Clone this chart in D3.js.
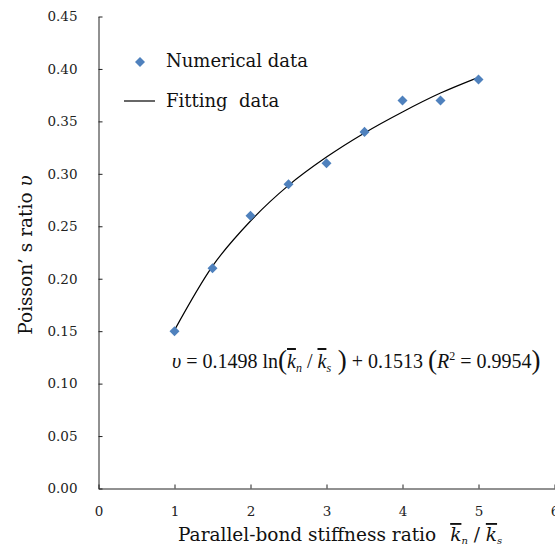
<!DOCTYPE html>
<html>
<head>
<meta charset="utf-8">
<script src="https://cdn.jsdelivr.net/npm/d3@7"></script>
<style>
  body { margin: 0; background: #fff; }
  svg { display: block; font-family: "DejaVu Serif", "Liberation Serif", serif; }
</style>
</head>
<body>
<div id="chart"></div>
<script>
// numerical data
const stiffnessRatio = [1, 1.5, 2, 2.5, 3, 3.5, 4, 4.5, 5];
const poissonRatio = [0.15, 0.21, 0.26, 0.29, 0.31, 0.34, 0.37, 0.37, 0.39];
// fitted curve
const fitRatio = [1, 1.5, 2, 2.5, 3, 3.5, 4, 4.5, 5];
const fitValues = [0.151, 0.212, 0.255, 0.289, 0.316, 0.339, 0.359, 0.377, 0.392];
const xTicks = [0, 1, 2, 3, 4, 5, 6];
const yTicks = [0, 0.05, 0.10, 0.15, 0.20, 0.25, 0.30, 0.35, 0.40, 0.45];

const width = 555, height = 548;
const svg = d3.select('#chart').append('svg')
  .attr('width', width)
  .attr('height', height);

const x = d3.scaleLinear().domain([0, 6]).range([98.5, 554.5]);
const y = d3.scaleLinear().domain([0, 0.45]).range([488.5, 16.5]);

const axisColor = '#222';

const xAxis = svg.append('g')
  .attr('transform', 'translate(0,' + y(0) + ')')
  .call(d3.axisBottom(x).tickValues(xTicks).tickFormat(d3.format('d'))
    .tickSizeInner(-4).tickSizeOuter(0).tickPadding(18));

const yAxis = svg.append('g')
  .attr('transform', 'translate(' + x(0) + ',0)')
  .call(d3.axisLeft(y).tickValues(yTicks).tickFormat(d3.format('.2f'))
    .tickSizeInner(-4).tickSizeOuter(0).tickPadding(21));

[xAxis, yAxis].forEach(a => {
  a.selectAll('path, line').attr('stroke', axisColor).attr('stroke-width', 1);
  a.selectAll('text').attr('fill', '#222')
    .style('font-family', '"DejaVu Serif", serif').style('font-size', '13.5px');
});

// fitted curve
const line = d3.line()
  .x((d, i) => x(fitRatio[i]))
  .y(d => y(d))
  .curve(d3.curveMonotoneX);

svg.append('path')
  .datum(fitValues)
  .attr('fill', 'none')
  .attr('stroke', '#000')
  .attr('stroke-width', 1.2)
  .attr('d', line);

// numerical points
const diamond = d3.symbol().type(d3.symbolDiamond2).size(64);
svg.selectAll('.pt')
  .data(poissonRatio)
  .enter().append('path')
  .attr('class', 'pt')
  .attr('d', diamond)
  .attr('fill', '#4F81BD')
  .attr('transform', (d, i) => 'translate(' + x(stiffnessRatio[i]) + ',' + y(d) + ')');

// legend
const legend = svg.append('g').style('font-size', '18px').attr('fill', '#111');
legend.append('path')
  .attr('d', diamond)
  .attr('fill', '#4F81BD')
  .attr('transform', 'translate(140,62)');
legend.append('text').attr('x', 166).attr('y', 67).text('Numerical data');
legend.append('line')
  .attr('x1', 124).attr('x2', 155).attr('y1', 101).attr('y2', 101)
  .attr('stroke', '#000').attr('stroke-width', 1.2);
legend.append('text').attr('x', 166).attr('y', 107).attr('xml:space', 'preserve').text('Fitting  data');

// equation
const eq = svg.append('text')
  .attr('x', 172).attr('y', 368)
  .style('font-family', '"Liberation Serif", serif')
  .style('font-size', '20px')
  .attr('fill', '#111')
  .attr('xml:space', 'preserve');
eq.append('tspan').style('font-style', 'italic').text('υ');
eq.append('tspan').text(' = 0.1498 ln');
eq.append('tspan').style('font-size', '27px').attr('dy', 1).text('(');
eq.append('tspan').attr('dy', -1).style('font-style', 'italic').style('text-decoration', 'overline').text('k');
eq.append('tspan').style('font-style', 'italic').style('font-size', '12px').attr('dy', 4).text('n');
eq.append('tspan').attr('dy', -4).text(' / ');
eq.append('tspan').style('font-style', 'italic').style('text-decoration', 'overline').text('k');
eq.append('tspan').style('font-style', 'italic').style('font-size', '12px').attr('dy', 4).text('s');
eq.append('tspan').style('font-size', '27px').attr('dy', -3).text(' )');
eq.append('tspan').attr('dy', -1).text(' + 0.1513 ');
eq.append('tspan').style('font-size', '27px').attr('dy', 1).text('(');
eq.append('tspan').attr('dy', -1).style('font-style', 'italic').text('R');
eq.append('tspan').style('font-size', '12px').attr('dy', -8).text('2');
eq.append('tspan').attr('dy', 8).text(' = 0.9954');
eq.append('tspan').style('font-size', '27px').attr('dy', 1).text(')');

// axis titles
const xTitle = svg.append('text')
  .attr('x', 178).attr('y', 541)
  .style('font-size', '18.5px')
  .attr('fill', '#111')
  .attr('xml:space', 'preserve');
xTitle.append('tspan').text('Parallel-bond stiffness ratio');
xTitle.append('tspan').attr('dx', 14).style('font-style', 'italic').style('text-decoration', 'overline').text('k');
xTitle.append('tspan').style('font-style', 'italic').style('font-size', '10px').attr('dy', 3).text('n');
xTitle.append('tspan').attr('dy', -3).text(' / ');
xTitle.append('tspan').style('font-style', 'italic').style('text-decoration', 'overline').text('k');
xTitle.append('tspan').style('font-style', 'italic').style('font-size', '10px').attr('dy', 3).text('s');

svg.append('text')
  .attr('transform', 'translate(32,255) rotate(-90)')
  .attr('text-anchor', 'middle')
  .style('font-size', '18.5px')
  .attr('fill', '#111')
  .attr('xml:space', 'preserve')
  .text('Poisson’ s ratio ')
  .append('tspan').style('font-style', 'italic').text('υ');
</script>
</body>
</html>
